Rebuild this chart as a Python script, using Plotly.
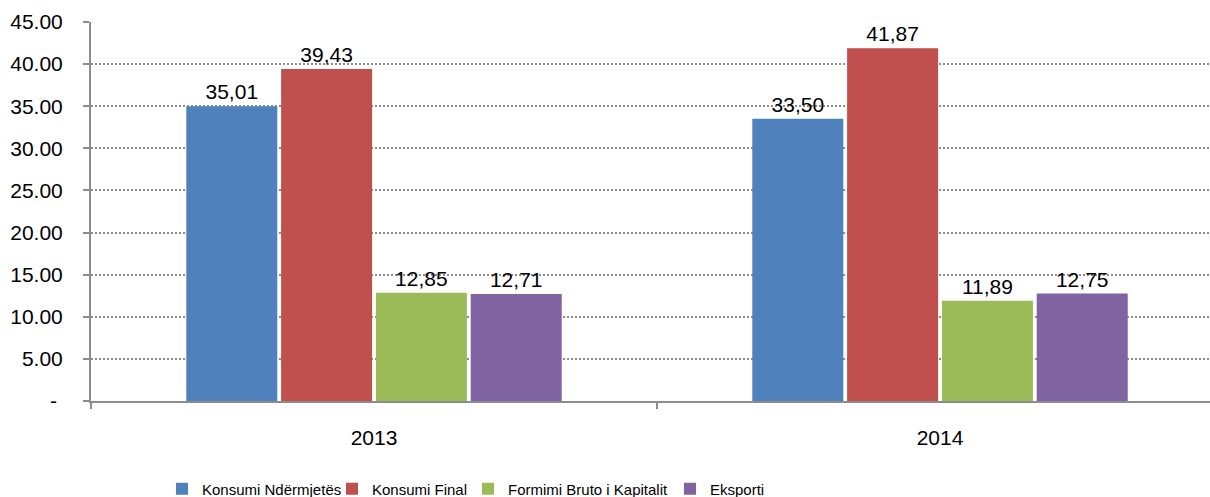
import plotly.graph_objects as go

years = ["2013", "2014"]
series_names = ["Konsumi Ndërmjetës", "Konsumi Final", "Formimi Bruto i Kapitalit", "Eksporti"]
konsumi_ndermjetes = [35.01, 33.50]
konsumi_final = [39.43, 41.87]
formimi_bruto = [12.85, 11.89]
eksporti = [12.71, 12.75]
y_ticks = [0, 5, 10, 15, 20, 25, 30, 35, 40, 45]

colors = ["#4F81BD", "#C0504D", "#9BBB59", "#8064A2"]
values = [konsumi_ndermjetes, konsumi_final, formimi_bruto, eksporti]

FONT = "Liberation Sans, Arial, sans-serif"
fig = go.Figure()
legend_x = [162 / 1210, 332 / 1210, 468 / 1210, 670 / 1210]
for i, (name, vals, col) in enumerate(zip(series_names, values, colors)):
    lg = "legend" if i == 0 else f"legend{i+1}"
    fig.add_trace(go.Bar(
        x=years, y=vals, name=name,
        marker=dict(color=col, line=dict(width=0)),
        text=[f"{v:.2f}".replace(".", ",") for v in vals],
        textposition="outside",
        textfont=dict(family=FONT, size=21, color="#000000"),
        cliponaxis=False,
        legend=lg,
    ))

ticktext = [("-\u00a0" if v == 0 else f"{v:.2f}") for v in y_ticks]

legend_common = dict(
    orientation="h", xref="container", yref="container", yanchor="middle",
    xanchor="left", y=0.016,
    font=dict(family=FONT, size=15, color="#000000"),
    bgcolor="rgba(0,0,0,0)", itemwidth=30, tracegroupgap=0,
)
layout_legends = {}
for i in range(4):
    key = "legend" if i == 0 else f"legend{i+1}"
    d = dict(legend_common)
    d["x"] = legend_x[i]
    layout_legends[key] = d

fig.update_layout(
    width=1210, height=497,
    margin=dict(l=91, r=0, t=22, b=96, autoexpand=False),
    paper_bgcolor="white", plot_bgcolor="white",
    barmode="group", bargap=0.33, bargroupgap=0.04,
    font=dict(family=FONT, size=20, color="#000000"),
    showlegend=True,
    **layout_legends,
)
fig.update_xaxes(
    type="category", range=[-0.5, 1.477], automargin=False,
    showline=True, linecolor="#8C8C8C", linewidth=2,
    ticks="outside", tickson="boundaries", ticklen=6, tickcolor="#8C8C8C", tickwidth=2,
    ticklabelstandoff=17,
    tickfont=dict(family=FONT, size=21, color="#000000"),
    showgrid=False, zeroline=False,
)
fig.update_yaxes(
    range=[0, 45], tickvals=y_ticks, ticktext=ticktext, automargin=False,
    showline=True, linecolor="#8C8C8C", linewidth=2,
    ticks="outside", ticklen=6, tickcolor="#8C8C8C", tickwidth=2,
    ticklabelstandoff=16,
    tickfont=dict(family=FONT, size=21, color="#000000"),
    showgrid=True, gridcolor="#8C8C8C", gridwidth=1.5, griddash="2px,2px",
    zeroline=False,
)

fig.write_html(
    "out.html",
    config={"displayModeBar": False},
    post_script="document.body.style.margin='0';document.body.style.overflow='hidden';",
)
